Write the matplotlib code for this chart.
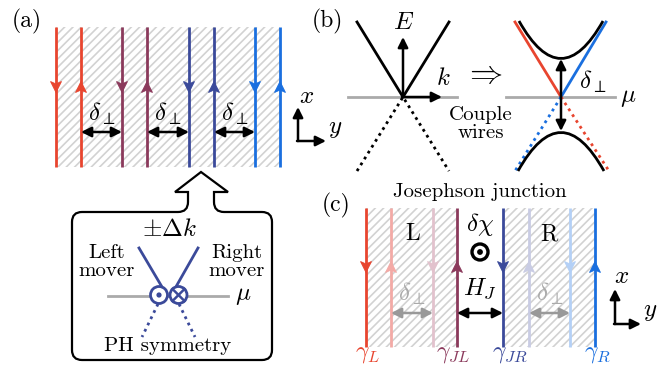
import numpy as np
import matplotlib
matplotlib.use('Agg')
import matplotlib.pyplot as plt
from matplotlib.patches import Rectangle, Polygon, Circle, FancyArrowPatch, PathPatch
from matplotlib.path import Path

plt.rc('font', family='serif', serif=['cmr10'], size=15)
plt.rc('mathtext', fontset='cm')
plt.rc('hatch', linewidth=1.2)
plt.rc('axes', unicode_minus=False)

RED, PLUM, NAVY, BLUE = '#e8452f', '#8b3a5c', '#3b4a9a', '#1a6fdf'
HATCH = '#d2d2d2'
GRAY = '#aaaaaa'

# panel (a): coupled wires, pairs of counter-propagating modes
a_wires = [56, 81, 122, 147, 189, 214, 255, 280]
a_dirs = [-1, 1, -1, 1, -1, 1, -1, 1]
a_colors = [RED, RED, PLUM, PLUM, NAVY, NAVY, BLUE, BLUE]
a_gaps = [(81, 122), (147, 189), (214, 255)]

# panel (c): Josephson junction between two wire arrays
c_wires = [366, 391, 433, 457, 503, 529, 570, 595]
c_dirs = [-1, 1, -1, 1, -1, 1, -1, 1]
c_colors = [RED, '#f3aaa6', '#e2c2cd', PLUM, NAVY, '#c9cce4', '#b4d0f6', BLUE]
c_gaps = [(391, 433), (529, 570)]
c_labels = [r'$\gamma_L$', r'$\gamma_{JL}$', r'$\gamma_{JR}$', r'$\gamma_R$']
c_label_x = [367, 453, 510, 597]
c_label_col = [RED, PLUM, NAVY, BLUE]


def wire(ax, x, y0, y1, ym, d, c):
    ax.plot([x, x], [y0, y1], color=c, lw=2.0, solid_capstyle='butt', zorder=3)
    h = 5.5 * d  # d=-1 points down (screen), +1 up
    pts = [(x, ym - h), (x - 5.5, ym + h), (x, ym + 0.55 * h), (x + 5.5, ym + h)]
    ax.add_patch(Polygon(pts, closed=True, fc=c, ec=c, lw=0.6, zorder=4))


def arrow(ax, p0, p1, c='k', style='-|>', lw=1.8):
    ax.add_patch(FancyArrowPatch(p0, p1, arrowstyle=style + ',head_length=0.6,head_width=0.3',
                                 mutation_scale=10, color=c, lw=lw, shrinkA=0, shrinkB=0, zorder=5))


fig = plt.figure(figsize=(6.70, 3.66), dpi=100)
ax = fig.add_axes([0, 0, 1, 1])
ax.set_xlim(0, 670)
ax.set_ylim(366, 0)
ax.axis('off')

# ---------------- (a)
ax.text(27, 21, '(a)', fontsize=17, ha='center', va='center')
ax.add_patch(Rectangle((56, 27), 224, 140, fc='white', ec=HATCH, lw=0, hatch='////', zorder=1))
for x, d, c in zip(a_wires, a_dirs, a_colors):
    wire(ax, x, 27, 167, 87, d, c)
for x0, x1 in a_gaps:
    arrow(ax, (x0, 132), (x1, 132), style='<|-|>')
    ax.text((x0 + x1) / 2, 114, r'$\delta_\perp$', fontsize=18, ha='center', va='center')
arrow(ax, (298, 141), (298, 107))
arrow(ax, (297, 141), (326, 141))
ax.text(307, 97, r'$x$', fontsize=18, ha='center', va='center')
ax.text(335, 129, r'$y$', fontsize=18, ha='center', va='center')

# callout box
verts = [(201, 172), (228, 192), (214, 192), (214, 202), (214, 212), (224, 212),
         (262, 212), (272, 212), (272, 222), (272, 350), (272, 360), (262, 360),
         (82, 360), (72, 360), (72, 350), (72, 222), (72, 212), (82, 212),
         (178, 212), (188, 212), (188, 202), (188, 192), (175, 192), (201, 172)]
codes = [Path.MOVETO, Path.LINETO, Path.LINETO, Path.LINETO, Path.CURVE3, Path.CURVE3,
         Path.LINETO, Path.CURVE3, Path.CURVE3, Path.LINETO, Path.CURVE3, Path.CURVE3,
         Path.LINETO, Path.CURVE3, Path.CURVE3, Path.LINETO, Path.CURVE3, Path.CURVE3,
         Path.LINETO, Path.CURVE3, Path.CURVE3, Path.LINETO, Path.LINETO, Path.CLOSEPOLY]
ax.add_patch(PathPatch(Path(verts, codes), fc='white', ec='k', lw=1.6, joinstyle='miter', zorder=2))
ax.text(169, 230, r'$\pm\Delta k$', fontsize=18, ha='center', va='center')
ax.text(107, 262, 'Left\nmover', ha='center', va='center', linespacing=0.95)
ax.text(237, 262, 'Right\nmover', ha='center', va='center', linespacing=0.95)
ax.plot([108, 228], [296, 296], color=GRAY, lw=2, zorder=3)
ax.text(243, 296, r'$\mu$', fontsize=18, ha='center', va='center')
ax.plot([139, 165], [248, 292], color=NAVY, lw=2, zorder=3)
ax.plot([198, 173], [248, 292], color=NAVY, lw=2, zorder=3)
ax.plot([158, 142], [304, 337], color=NAVY, lw=2, ls=(0, (1, 1.5)), zorder=3)
ax.plot([179, 195], [304, 337], color=NAVY, lw=2, ls=(0, (1, 1.5)), zorder=3)
ax.add_patch(Circle((159, 295), 8.5, fc='white', ec=NAVY, lw=2, zorder=4))
ax.add_patch(Circle((159, 295), 2.6, fc=NAVY, ec=NAVY, lw=0, zorder=5))
ax.add_patch(Circle((178.5, 295), 8.5, fc='white', ec=NAVY, lw=2, zorder=4))
r = 8.5 / np.sqrt(2)
ax.plot([178.5 - r, 178.5 + r], [295 - r, 295 + r], color=NAVY, lw=1.8, zorder=5)
ax.plot([178.5 - r, 178.5 + r], [295 + r, 295 - r], color=NAVY, lw=1.8, zorder=5)
ax.text(168, 346, 'PH symmetry', ha='center', va='center')

# ---------------- (b)
ax.text(327, 21, '(b)', fontsize=17, ha='center', va='center')
ax.plot([348, 457], [97, 97], color=GRAY, lw=2, zorder=1)
ax.plot([357, 403, 449], [22, 97, 22], color='k', lw=2, zorder=2)
ax.plot([357, 403, 449], [171, 97, 171], color='k', lw=2, ls=(0, (1, 1.5)), zorder=2)
arrow(ax, (403, 97), (403, 37))
arrow(ax, (402, 97), (442, 97))
ax.text(404, 23, r'$E$', fontsize=18, ha='center', va='center')
ax.text(443, 79, r'$k$', fontsize=18, ha='center', va='center')
ax.text(484, 74, r'$\Rightarrow$', fontsize=24, ha='center', va='center')
ax.text(481, 124, 'Couple\nwires', ha='center', va='center', linespacing=0.95)

ax.plot([506, 615], [97, 97], color=GRAY, lw=2, zorder=1)
ax.text(628, 98, r'$\mu$', fontsize=18, ha='center', va='center')
ax.plot([515, 561], [22, 97], color=RED, lw=2, zorder=2)
ax.plot([561, 606], [97, 22], color=BLUE, lw=2, zorder=2)
ax.plot([561, 515], [97, 171], color=BLUE, lw=2, ls=(0, (1, 1.5)), zorder=2)
ax.plot([561, 609], [97, 171], color=RED, lw=2, ls=(0, (1, 1.5)), zorder=2)
up = Path([(519, 21), (561, 96), (603, 21)], [Path.MOVETO, Path.CURVE3, Path.CURVE3])
lo = Path([(518, 171), (561, 94), (604, 171)], [Path.MOVETO, Path.CURVE3, Path.CURVE3])
ax.add_patch(PathPatch(up, fc='none', ec='k', lw=2, zorder=3))
ax.add_patch(PathPatch(lo, fc='none', ec='k', lw=2, zorder=3))
arrow(ax, (561, 59), (561, 131), style='<|-|>')
ax.text(593, 82, r'$\delta_\perp$', fontsize=18, ha='center', va='center')

# ---------------- (c)
ax.text(336, 205, '(c)', fontsize=17, ha='center', va='center')
ax.text(480, 192, 'Josephson junction', ha='center', va='center')
ax.add_patch(Rectangle((366, 208), 91, 139, fc='white', ec=HATCH, lw=0, hatch='////', zorder=1))
ax.add_patch(Rectangle((503, 208), 92, 139, fc='white', ec=HATCH, lw=0, hatch='////', zorder=1))
for x, d, c in zip(c_wires, c_dirs, c_colors):
    wire(ax, x, 208, 347, 267, d, c)
ax.text(413, 234, 'L', fontsize=17, ha='center', va='center')
ax.text(549, 234, 'R', fontsize=17, ha='center', va='center')
ax.text(480, 225, r'$\delta\chi$', fontsize=18, ha='center', va='center')
ax.add_patch(Circle((480, 252), 8, fc='white', ec='k', lw=2.4, zorder=4))
ax.add_patch(Circle((480, 252), 2.9, fc='k', ec='k', lw=0, zorder=5))
ax.text(480, 289, r'$H_J$', fontsize=18, ha='center', va='center')
arrow(ax, (457, 313), (503, 313), style='<|-|>')
for x0, x1 in c_gaps:
    arrow(ax, (x0, 313), (x1, 313), c='#999999', style='<|-|>')
    ax.text((x0 + x1) / 2, 294, r'$\delta_\perp$', fontsize=18, color=GRAY, ha='center', va='center')
for s, x, c in zip(c_labels, c_label_x, c_label_col):
    ax.text(x, 365, s, fontsize=17, color=c, ha='center', va='bottom')
arrow(ax, (615, 324), (615, 289))
arrow(ax, (614, 324), (641, 324))
ax.text(622, 277, r'$x$', fontsize=18, ha='center', va='center')
ax.text(650, 312, r'$y$', fontsize=18, ha='center', va='center')

fig.savefig('out.png', dpi=100)
